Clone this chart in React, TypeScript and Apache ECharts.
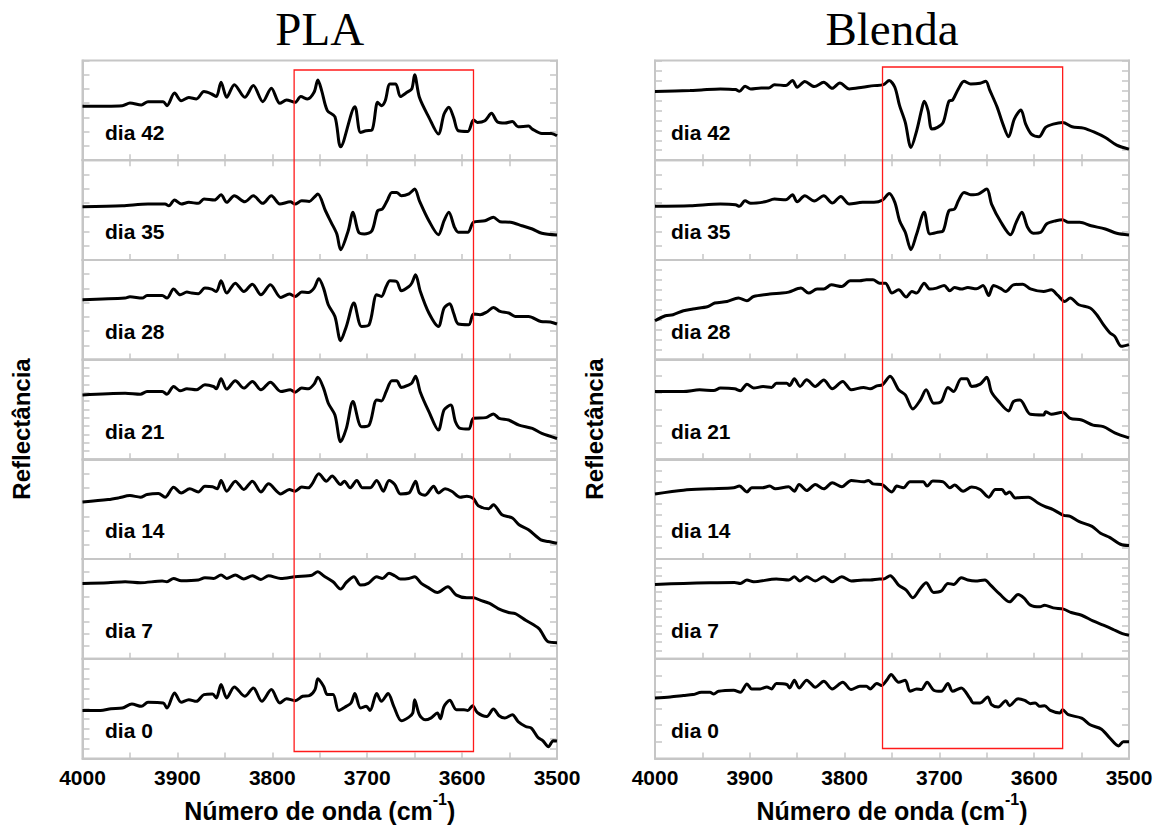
import React, { useEffect, useRef } from "react";
import * as echarts from "echarts";

// ---------- data ----------
const panelTitles = ["PLA", "Blenda"];
const dayLabels = ["dia 42", "dia 35", "dia 28", "dia 21", "dia 14", "dia 7", "dia 0"];
const xTickValues = [4000, 3900, 3800, 3700, 3600, 3500];
const xAxisTitle = "Número de onda (cm";
const yAxisTitle = "Reflectância";
// highlighted wavenumber windows (cm-1)
const plaWindow = [3777, 3588];
const blendaWindow = [3760, 3570];
// number of y tick intervals in each sub-panel (top to bottom)
const plaYTickCounts = [7, 7, 7, 12, 7, 8, 10];
const blendaYTickCounts = [10, 7, 10, 6, 9, 12, 6];

const plaDia42 = [[4000,54],[3958,54.7],[3950,57.4],[3938,55.4],[3931,58.7],[3915,58.7],[3911,54.7],[3903,67.4],[3896,59.7],[3888,63],[3880,61.4],[3872,68.8],[3864,66.4],[3859,63.8],[3854,78.2],[3848,63.1],[3840,75.8],[3829,63.1],[3820,74.8],[3810,58.7],[3801,72.1],[3792,57],[3785,60.4],[3776,58],[3770,63.8],[3763,61.4],[3756,68.1],[3752,80.5],[3748,69.8],[3742,49.7],[3734,43.6],[3728,13.4],[3713,53.7],[3707,27.8],[3701,29.5],[3695,30.2],[3689,58],[3685,54.7],[3681,59.7],[3676,76.5],[3670,76.5],[3665,63.8],[3658,68.1],[3653,71.5],[3650,85.6],[3645,63.1],[3635,43],[3625,26.2],[3619,46.3],[3614,53],[3609,43],[3604,29.5],[3594,28.9],[3588,40.3],[3584,37.9],[3576,39.6],[3569,47],[3563,38.6],[3555,37.2],[3547,38.9],[3541,33.6],[3530,34.2],[3526,31.2],[3516,26.8],[3506,26.8],[3500,24.5]];
const plaDia35 = [[4000,53.3],[3958,54.3],[3931,56],[3913,56],[3909,54.3],[3903,60],[3896,56],[3888,57.7],[3878,56.7],[3872,61],[3861,60],[3854,65.3],[3848,57.7],[3840,64.3],[3829,58.3],[3820,64.3],[3810,56.7],[3801,64.3],[3792,56],[3781,58.3],[3776,56],[3769,59.3],[3761,58.7],[3756,62.7],[3752,66],[3744,49.3],[3738,37.7],[3732,26],[3728,10.3],[3720,29.3],[3715,47.7],[3709,27.7],[3703,26],[3695,29.3],[3689,49.3],[3684,51],[3679,59.3],[3674,67.7],[3669,67.7],[3664,64.3],[3656,66.3],[3650,71],[3645,59.3],[3635,39.3],[3625,25.3],[3619,39.3],[3614,47.7],[3608,32.7],[3604,27.7],[3594,27.7],[3588,37.7],[3576,39.3],[3567,42.7],[3560,38.3],[3549,37.7],[3537,34.3],[3526,31],[3516,26.7],[3500,25]];
const plaDia28 = [[4000,60],[3955,61.7],[3950,63],[3937,61.7],[3932,64.3],[3916,64.3],[3911,61.7],[3904,70.7],[3897,65],[3890,67.7],[3885,66.7],[3878,66],[3871,71.7],[3864,70.7],[3859,68.3],[3854,79],[3848,66.7],[3839,76.7],[3830,68.3],[3821,75.7],[3812,65],[3802,75],[3791,62.3],[3782,65.7],[3776,63.3],[3769,67.7],[3762,67.3],[3756,71.7],[3751,81],[3746,71.7],[3741,55],[3734,43.3],[3728,19],[3722,33.3],[3714,56.7],[3706,33.3],[3698,35],[3690,65],[3685,63.3],[3680,73.3],[3676,79],[3669,78.3],[3664,69],[3656,73.3],[3653,76.7],[3649,85],[3644,68.3],[3635,46.7],[3625,33.3],[3619,51.7],[3613,56],[3609,46.7],[3604,35.7],[3593,35],[3588,45.7],[3581,45],[3574,47.7],[3567,52.3],[3560,48.3],[3551,46.7],[3544,43.3],[3530,43.3],[3517,38.3],[3507,37.7],[3500,35.7]];
const plaDia21 = [[4000,64.6],[3955,66.3],[3939,65.3],[3932,68],[3916,68],[3911,65.3],[3904,73],[3897,68.7],[3890,70.7],[3880,69.7],[3871,74.7],[3862,73],[3859,70.7],[3854,80.8],[3848,70.4],[3839,78.8],[3830,71.4],[3821,78.1],[3812,69.7],[3802,77.4],[3791,68],[3781,69.7],[3776,67.3],[3769,71.4],[3762,70.7],[3756,75.4],[3752,82.2],[3746,71.4],[3741,56.2],[3734,44.4],[3728,17.5],[3722,31],[3715,57.9],[3706,32.7],[3698,34.3],[3690,59.6],[3685,58.6],[3680,68],[3674,78.8],[3669,78.8],[3664,72.1],[3656,74.7],[3653,76.4],[3649,83.2],[3644,67.3],[3635,47.8],[3625,29.3],[3619,49.5],[3612,54.5],[3607,37.7],[3602,31],[3593,30.3],[3588,41.1],[3575,41.8],[3567,45.5],[3561,41.1],[3551,39.4],[3540,34.3],[3526,31],[3516,25.9],[3500,20.9]];
const plaDia14 = [[4000,57.2],[3973,59.6],[3962,61.3],[3950,63.6],[3939,62],[3932,64.6],[3920,65.7],[3913,62],[3904,72],[3896,66.3],[3887,70.4],[3878,67.3],[3871,73],[3863,72.4],[3858,70.4],[3854,78.8],[3848,68],[3839,78.1],[3830,69.7],[3821,78.1],[3812,67.3],[3804,75.4],[3791,65.3],[3782,69.7],[3776,68],[3769,72.1],[3762,71.4],[3758,75.4],[3751,85.5],[3743,78.1],[3737,83.2],[3728,74.7],[3724,78.1],[3718,71.4],[3711,78.8],[3705,71.4],[3697,71.4],[3690,78.8],[3683,68],[3677,78.8],[3671,74.7],[3665,65.3],[3656,66.3],[3649,78.1],[3645,66.3],[3639,64],[3630,73],[3625,66.3],[3618,70.4],[3611,68],[3602,62],[3595,63],[3588,60.6],[3583,53.5],[3572,50.5],[3567,54.5],[3558,44.4],[3547,41.1],[3540,34.3],[3530,29.3],[3517,19.2],[3509,17.5],[3500,15.8]];
const plaDia7 = [[4000,75.5],[3973,76.2],[3955,77.2],[3939,76.2],[3916,77.9],[3911,77.2],[3904,80.5],[3896,78.2],[3878,78.9],[3871,81.2],[3862,80.5],[3854,83.9],[3848,80.5],[3839,83.9],[3830,79.9],[3821,83.2],[3812,79.5],[3804,83.2],[3791,80.5],[3776,82.2],[3762,83.2],[3758,83.9],[3752,87.2],[3746,83.2],[3736,77.2],[3728,69.8],[3722,76.5],[3714,82.2],[3707,73.8],[3699,75.5],[3690,82.2],[3684,80.5],[3677,85.6],[3671,83.2],[3665,79.9],[3656,80.5],[3650,82.2],[3643,75.5],[3636,71.5],[3626,66.4],[3615,72.1],[3606,63.8],[3595,61.1],[3588,61.1],[3581,58.7],[3571,55.4],[3562,50.3],[3551,46.3],[3544,45.3],[3533,38.6],[3519,30.2],[3509,16.8],[3500,16.1]];
const plaDia0 = [[4000,48.1],[3981,48.1],[3970,49.8],[3958,50.5],[3948,54.5],[3938,52.2],[3931,56.2],[3915,55.6],[3911,50.5],[3903,65.7],[3896,56.2],[3888,58.9],[3880,57.2],[3872,64],[3863,64.6],[3859,60.6],[3854,74.1],[3848,60.6],[3840,71.7],[3829,62.3],[3820,70.7],[3811,57.2],[3801,69],[3792,55.6],[3785,59.9],[3776,57.9],[3768,62.3],[3761,63],[3755,69],[3752,79.8],[3746,72.4],[3742,64],[3736,64],[3730,48.1],[3722,52.2],[3717,55.6],[3713,65],[3707,50.5],[3701,52.2],[3697,48.1],[3690,65],[3685,57.2],[3678,65],[3672,52.2],[3664,37.7],[3656,41.4],[3652,45.5],[3650,58.9],[3645,43.8],[3639,38.7],[3633,40.4],[3626,45.5],[3623,39.7],[3619,52.2],[3613,58.2],[3606,48.8],[3598,48.8],[3594,48.1],[3589,52.9],[3584,46.1],[3574,42.1],[3567,49.5],[3561,42.8],[3555,40.4],[3547,43.8],[3541,37],[3533,32],[3527,30.3],[3520,20.9],[3515,17.8],[3509,11.8],[3504,17.8],[3500,17.5]];

const blendaDia42 = [[4000,68.8],[3963,69.8],[3951,70.5],[3931,71.5],[3915,70.8],[3911,69.1],[3905,74.2],[3899,71.5],[3888,72.5],[3880,72.5],[3874,75.8],[3862,74.8],[3855,79.9],[3850,73.2],[3842,78.9],[3832,73.8],[3822,78.2],[3813,72.1],[3805,77.5],[3795,71.5],[3781,73.2],[3769,74.8],[3759,75.8],[3753,79.9],[3747,73.2],[3742,54.7],[3736,37.9],[3730,12.8],[3724,29.5],[3719,49.7],[3716,59.1],[3712,49.7],[3708,31.2],[3702,32.9],[3696,37.9],[3690,59.1],[3686,60.4],[3680,71.5],[3674,79.2],[3667,76.5],[3657,77.2],[3651,79.2],[3647,70.5],[3639,53],[3633,36.2],[3627,23.5],[3621,41.3],[3614,50.3],[3609,36.2],[3603,26.2],[3595,23.5],[3588,32.9],[3580,36.2],[3570,37.9],[3560,33.6],[3548,32.2],[3536,27.9],[3525,22.8],[3513,15.1],[3500,11.1]];
const blendaDia35 = [[4000,53.7],[3963,54.3],[3931,56],[3915,55.3],[3911,53.7],[3905,59.3],[3899,56.7],[3884,58.3],[3874,61],[3862,60.3],[3855,65.3],[3850,58.3],[3842,64.3],[3832,59],[3822,64.3],[3813,57],[3804,63.7],[3795,56],[3781,57.7],[3769,57.7],[3760,60],[3753,66.7],[3747,57.7],[3742,39.3],[3736,27.7],[3730,10.3],[3724,26],[3716,47.7],[3710,26],[3702,27.7],[3696,29.3],[3690,49.3],[3684,51],[3680,59.3],[3674,67.7],[3667,65.3],[3659,66],[3650,71],[3645,56],[3635,37.7],[3625,25.3],[3619,37.7],[3613,47.7],[3607,32.7],[3601,26.7],[3593,27.7],[3587,36],[3577,39.3],[3570,40.3],[3564,37.7],[3552,37.7],[3540,34.3],[3525,31],[3513,26.7],[3500,25]];
const blendaDia28 = [[4000,39],[3989,44],[3981,45],[3970,49],[3960,50.7],[3944,53.3],[3937,56.7],[3924,58.3],[3912,61.7],[3903,59],[3896,63.3],[3879,65.7],[3866,66.7],[3859,67.7],[3846,71.7],[3838,66.7],[3829,70.7],[3822,70.7],[3814,75],[3803,73.3],[3794,79],[3784,79],[3777,80],[3770,80],[3763,76.7],[3757,76.7],[3750,66.7],[3743,70],[3735,62.7],[3729,68.3],[3724,66.7],[3716,76.7],[3710,70.7],[3703,71.7],[3695,74.3],[3689,69],[3684,72.3],[3677,70.7],[3670,72.3],[3661,71],[3654,74.3],[3648,64.3],[3643,74.3],[3636,71.7],[3630,68.3],[3622,75],[3612,75.7],[3604,71],[3590,68.3],[3582,70],[3575,64.3],[3568,58.3],[3562,61.7],[3553,55],[3541,51.7],[3534,45],[3527,35],[3520,26.7],[3515,23.3],[3508,13.3],[3500,15]];
const blendaDia21 = [[4000,68],[3970,68],[3953,69.7],[3938,69],[3931,71.4],[3916,70.7],[3910,68.7],[3903,75.4],[3896,71.4],[3886,73],[3877,72.1],[3872,76.4],[3861,76.4],[3858,74.1],[3853,80.8],[3847,73.1],[3840,79.8],[3831,73.1],[3822,79.5],[3813,70.7],[3802,78.1],[3793,69.7],[3780,72.1],[3773,70.7],[3766,73.7],[3760,74.7],[3752,83.2],[3743,69.7],[3736,64.6],[3728,50.5],[3720,59.6],[3714,69.7],[3706,56.2],[3698,57.9],[3691,72.1],[3685,68],[3677,80.8],[3671,80.8],[3666,73.1],[3657,75.4],[3650,82.2],[3645,67.3],[3638,58.6],[3627,48.5],[3622,57.9],[3615,59.6],[3604,45.1],[3590,44.4],[3588,47.8],[3582,45.1],[3570,47.1],[3562,41.1],[3550,39.4],[3538,34.3],[3527,32.7],[3515,26.6],[3500,21.5]];
const blendaDia14 = [[4000,65.3],[3970,69],[3942,70.4],[3917,71.4],[3911,73.1],[3903,67.3],[3898,71.4],[3887,71.4],[3879,73.1],[3873,70.4],[3859,72.4],[3853,68],[3848,74.7],[3840,68.7],[3831,74.7],[3822,70.4],[3813,76.4],[3803,72.4],[3793,78.8],[3780,77.4],[3775,78.8],[3770,75.4],[3761,74.7],[3750,67.3],[3745,73.1],[3738,71.4],[3731,77.4],[3717,77.4],[3713,73.1],[3707,78.2],[3696,77.4],[3689,71.4],[3684,74.1],[3675,68],[3666,72.1],[3657,69.7],[3648,62],[3641,69.7],[3634,69.7],[3630,65.3],[3626,67.3],[3620,61.3],[3606,62],[3596,56.2],[3589,52.9],[3580,49.5],[3569,43.8],[3562,42.8],[3553,37.7],[3539,32.7],[3530,25.9],[3520,21.5],[3509,14.8],[3500,13.5]];
const blendaDia7 = [[4000,74.5],[3970,75.5],[3942,76.2],[3916,76.5],[3910,75.5],[3903,78.9],[3896,77.2],[3872,79.9],[3859,78.9],[3853,82.2],[3847,77.9],[3840,82.2],[3831,77.9],[3822,82.2],[3813,77.2],[3803,82.2],[3793,77.9],[3780,78.9],[3773,78.9],[3763,79.9],[3759,79.9],[3752,83.2],[3743,73.8],[3735,68.8],[3728,61.1],[3720,70.5],[3714,76.2],[3706,66.4],[3698,67.8],[3691,75.5],[3685,74.5],[3677,81.2],[3670,78.9],[3662,77.9],[3652,78.9],[3646,73.8],[3636,64.4],[3626,57],[3617,64.4],[3611,61.1],[3604,53.7],[3594,52],[3589,53.7],[3580,51],[3569,49.7],[3561,46.3],[3550,43.6],[3538,37.9],[3527,33.6],[3517,29.5],[3507,25.2],[3500,23.5]];
const blendaDia0 = [[4000,60.6],[3984,61.6],[3970,63],[3960,64],[3951,66.3],[3942,66.3],[3938,64.6],[3933,67.3],[3917,68.4],[3910,66.3],[3903,74.7],[3898,69.7],[3889,69.7],[3882,71.7],[3877,69.7],[3872,75.1],[3861,74.1],[3858,70.7],[3853,78.5],[3848,70.7],[3840,78.5],[3831,71.4],[3822,77.4],[3813,69.7],[3802,76.4],[3793,69],[3784,72.4],[3777,72.4],[3773,69.7],[3766,75.1],[3761,73.1],[3755,79.1],[3751,84.2],[3743,76.4],[3736,78.5],[3731,67.3],[3724,69.7],[3719,69],[3713,76.4],[3706,68.4],[3698,67.3],[3691,75.1],[3686,67.3],[3677,70.7],[3668,60.6],[3664,55.6],[3657,55.6],[3649,61.6],[3645,53.9],[3638,51.5],[3630,57.9],[3626,52.9],[3617,59.9],[3610,58.2],[3604,54.9],[3599,55.6],[3594,52.2],[3589,52.9],[3583,48.1],[3573,45.5],[3570,48.8],[3564,43.8],[3550,40.4],[3541,33.7],[3529,29.3],[3520,20.2],[3511,12.5],[3506,16.8],[3500,16.8]];

const plaSeries = [plaDia42, plaDia35, plaDia28, plaDia21, plaDia14, plaDia7, plaDia0];
const blendaSeries = [blendaDia42, blendaDia35, blendaDia28, blendaDia21, blendaDia14, blendaDia7, blendaDia0];

// ---------- layout / style ----------
const SANS = "'Liberation Sans', Arial, Helvetica, sans-serif";
const SERIF = "'Liberation Serif', 'Times New Roman', serif";
const GREY = "#c6c6c6";
const PANEL_TOP = 60.5;
const PANEL_H = 99.7;
const PANEL_LEFT = [82.5, 655];
const PANEL_W = [474.5, 474];
const RECT_Y = [[70, 751.5], [67, 748.5]];
const LABEL_DX = [22.5, 16];

const panels = [
  { title: panelTitles[0], series: plaSeries, ticks: plaYTickCounts, window: plaWindow },
  { title: panelTitles[1], series: blendaSeries, ticks: blendaYTickCounts, window: blendaWindow },
];

function buildOption() {
  const grid: any[] = [];
  const xAxis: any[] = [];
  const yAxis: any[] = [];
  const series: any[] = [];
  const tickStyle = { inside: true, length: 6, lineStyle: { color: GREY, width: 1.5 } };
  panels.forEach((panel, p) => {
    panel.series.forEach((data, r) => {
      const g = p * 7 + r;
      grid.push({
        left: PANEL_LEFT[p], width: PANEL_W[p], top: PANEL_TOP + r * PANEL_H, height: PANEL_H,
        show: true, borderColor: GREY, borderWidth: 2, backgroundColor: "transparent",
      });
      xAxis.push({
        type: "value", gridIndex: g, position: "bottom", min: 3500, max: 4000, interval: 50, inverse: true,
        axisLine: { show: true, lineStyle: { color: GREY, width: 2 } },
        axisTick: tickStyle,
        splitLine: { show: false },
        axisLabel: r === 6
          ? {
              show: true, margin: 9, fontSize: 21, fontWeight: "bold", color: "#000", fontFamily: SANS,
              showMinLabel: true, showMaxLabel: true,
              formatter: (v: number) => (xTickValues.includes(v) ? String(v) : ""),
            }
          : { show: false },
      });
      const n = panel.ticks[r];
      const yCommon = {
        type: "value", gridIndex: g, min: 0, max: 100, interval: 100 / n,
        axisLine: { show: true, lineStyle: { color: GREY, width: 2 } },
        axisTick: { inside: true, length: 7, lineStyle: { color: GREY, width: 1.5 } },
        axisLabel: { show: false }, splitLine: { show: false },
      };
      yAxis.push({ ...yCommon, position: "left" });
      yAxis.push({ ...yCommon, position: "right" });
      series.push({
        type: "line", xAxisIndex: g, yAxisIndex: 2 * g, data, showSymbol: false, symbol: "none",
        smooth: 0.3, silent: true, lineStyle: { color: "#000", width: 3 },
      });
    });
  });
  [0, 7].forEach((g) => {
    xAxis.push({
      type: "value", gridIndex: g, position: "top", min: 3500, max: 4000, interval: 50, inverse: true,
      axisLine: { show: true, lineStyle: { color: GREY, width: 2 } },
      axisTick: tickStyle, axisLabel: { show: false }, splitLine: { show: false },
    });
  });
  return { animation: false, backgroundColor: "#fff", grid, xAxis, yAxis, series };
}

function txt(x: number, y: number, text: string, font: any, extra: any = {}) {
  return {
    type: "text", x, y, silent: true, ...extra,
    style: {
      text, fill: "#000", align: "center", verticalAlign: "middle",
      textAlign: "center", textVerticalAlign: "middle", ...font,
    },
  };
}

export default function App() {
  const ref = useRef<HTMLDivElement>(null);
  useEffect(() => {
    if (!ref.current) return;
    const chart = echarts.init(ref.current, null, { renderer: "svg" });
    chart.setOption(buildOption());
    const graphic: any[] = [];
    panels.forEach((panel, p) => {
      const left = PANEL_LEFT[p];
      const cx = left + PANEL_W[p] / 2;
      graphic.push(txt(cx, 29, panel.title, { fontSize: 47, fontFamily: SERIF, fontWeight: "normal" }));
      graphic.push(
        txt(left - 61, 429, yAxisTitle, { fontSize: 24, fontWeight: "bold", fontFamily: SANS }, { rotation: Math.PI / 2 })
      );
      graphic.push({
        type: "text", x: cx, y: 807, silent: true,
        style: {
          text: `{a|${xAxisTitle}}{s|-1}{a|)}`,
          align: "center", verticalAlign: "middle", textAlign: "center", textVerticalAlign: "middle",
          rich: {
            a: { fontSize: 25, fontWeight: "bold", fontFamily: SANS, fill: "#000", color: "#000", padding: [7, 0, 0, 0] },
            s: { fontSize: 16, fontWeight: "bold", fontFamily: SANS, fill: "#000", color: "#000", verticalAlign: "top" },
          },
        },
      });
      dayLabels.forEach((lab, r) => {
        graphic.push({
          type: "text", x: left + LABEL_DX[p], y: PANEL_TOP + r * PANEL_H + 71.5, silent: true,
          style: {
            text: lab, fill: "#000", fontSize: 21, fontWeight: "bold", fontFamily: SANS,
            align: "left", verticalAlign: "middle", textAlign: "left", textVerticalAlign: "middle",
          },
        });
      });
      const x1 = chart.convertToPixel({ xAxisIndex: p * 7 }, panel.window[0]) as number;
      const x2 = chart.convertToPixel({ xAxisIndex: p * 7 }, panel.window[1]) as number;
      const [y1, y2] = RECT_Y[p];
      graphic.push({
        type: "rect", silent: true, z: 100,
        shape: { x: Math.min(x1, x2), y: y1, width: Math.abs(x2 - x1), height: y2 - y1 },
        style: { fill: "none", stroke: "#ff1a1a", lineWidth: 1.3 },
      });
    });
    chart.setOption({ graphic });
    return () => chart.dispose();
  }, []);
  return (
    <div
      ref={ref}
      style={{ position: "fixed", left: 0, top: 0, width: 1165, height: 825, background: "#fff" }}
    />
  );
}
